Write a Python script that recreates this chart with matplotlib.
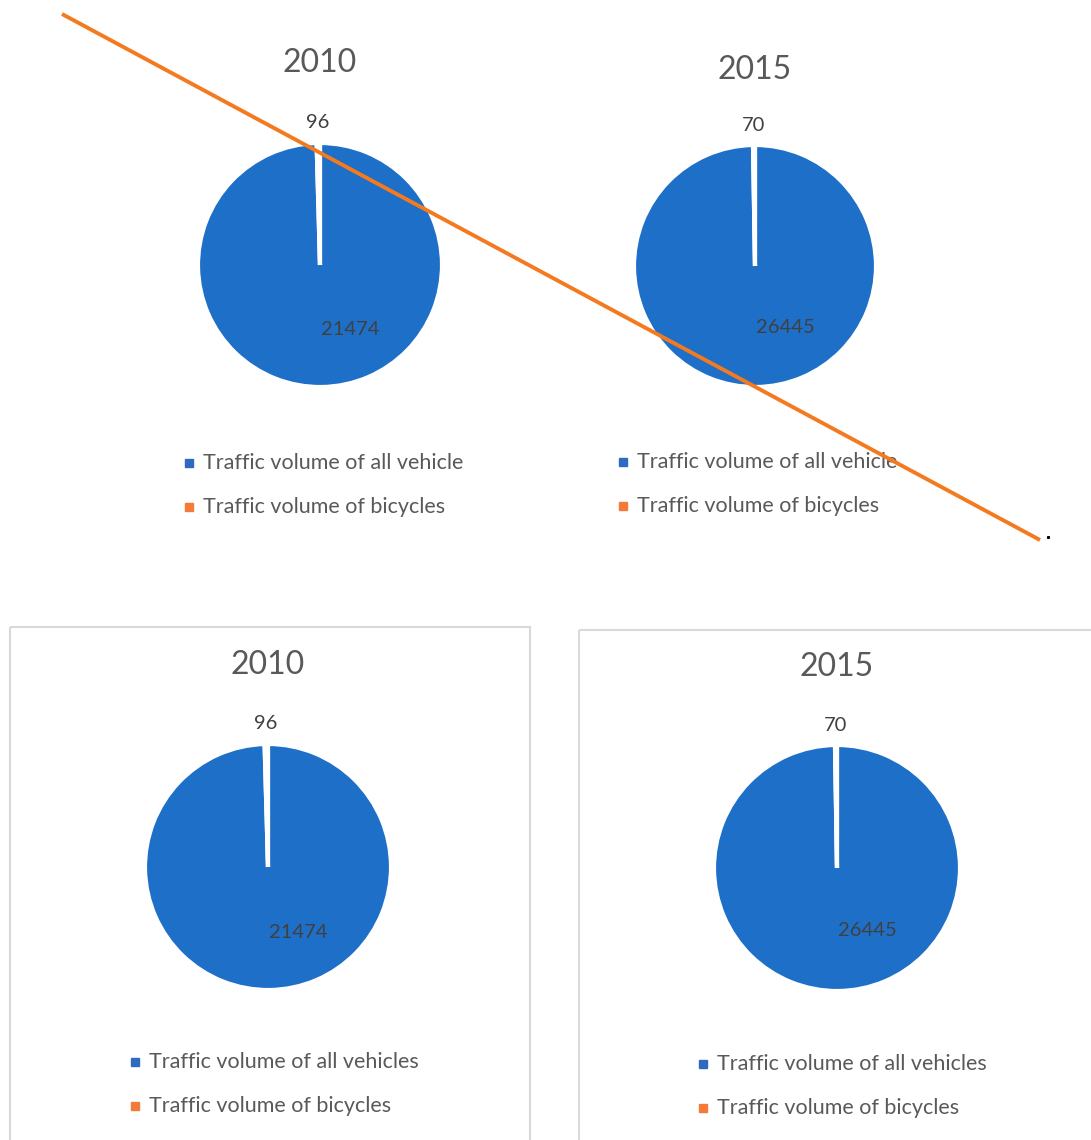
import matplotlib
matplotlib.use("Agg")
import matplotlib.pyplot as plt
from matplotlib.patches import Rectangle

# ---- data ----
years = ["2010", "2015"]
all_vehicles = [21474, 26445]
bicycles = [96, 70]
legend_top = ["Traffic volume of all vehicle", "Traffic volume of bicycles"]
legend_bottom = ["Traffic volume of all vehicles", "Traffic volume of bicycles"]
slice_colors = ["#1E6FC8", "#ED7D31"]
legend_colors = ["#2E6BC0", "#F47A3A"]

W, H = 1091, 1140
plt.rcParams['font.family'] = ['Lato', 'DejaVu Sans']
fig = plt.figure(figsize=(W / 100, H / 100), dpi=100)

# overlay axes in pixel coordinates
ov = fig.add_axes([0, 0, 1, 1])
ov.set_xlim(0, W)
ov.set_ylim(H, 0)
ov.axis('off')
ov.set_zorder(0)

# chart boxes of the lower pair
box_col = "#D9D9D9"
ov.add_patch(Rectangle((10, 627), 520, 600, fill=False, ec=box_col, lw=1.5))
ov.add_patch(Rectangle((579, 630), 600, 600, fill=False, ec=box_col, lw=1.5))

# layout: (center x, center y, radius, title y, legend marker x, legend rows y, legend labels)
layouts = [
    [(320, 265, 122, 63, 189, (463, 507), legend_top),
     (755, 266, 121, 70, 623, (462, 506), legend_top)],
    [(268, 867, 123, 665, 135, (1062, 1106), legend_bottom),
     (837, 868, 123, 667, 703, (1064, 1108), legend_bottom)],
]
top_lbl = [(-0.02, 1.17), (-0.01, 1.16)]
in_lbl = [(0.25, -0.53), (0.25, -0.51)]

txt_col = "#595959"
for row in layouts:
    for i, (cx, cy, r, ty, lx, rows, labels) in enumerate(row):
        ax = fig.add_axes([(cx - r) / W, 1 - (cy + r) / H, 2 * r / W, 2 * r / H])
        ax.set_zorder(2)
        vals = [all_vehicles[i], bicycles[i]]
        ax.pie(vals, colors=slice_colors, startangle=90, counterclock=False,
               radius=1, wedgeprops=dict(edgecolor="white", linewidth=3.0))
        ax.set_xlim(-1, 1)
        ax.set_ylim(-1, 1)
        ax.set_aspect('equal')
        ax.axis('off')
        ax.text(top_lbl[i][0], top_lbl[i][1], f"{bicycles[i]}", ha='center', va='center',
                fontsize=14.5, color="#404040", clip_on=False)
        ax.text(in_lbl[i][0], in_lbl[i][1], f"{all_vehicles[i]}", ha='center', va='center',
                fontsize=14.5, color="#404040", clip_on=False)
        # title
        ov.text(cx, ty, years[i], ha='center', va='center', fontsize=23, color=txt_col)
        # legend
        for k in range(2):
            ov.plot([lx], [rows[k]], marker='s', ms=5.5, color=legend_colors[k], ls='none')
            ov.text(lx + 14, rows[k], labels[k], ha='left', va='center', fontsize=15.5,
                    color=txt_col)

# strike-through line across the upper pair
line_ax = fig.add_axes([0, 0, 1, 1])
line_ax.set_xlim(0, W)
line_ax.set_ylim(H, 0)
line_ax.axis('off')
line_ax.set_zorder(5)
line_ax.plot([62, 1040], [14, 540], color="#F47A20", lw=2.8, solid_capstyle='butt')
line_ax.plot([1048], [537], marker='s', ms=1.2, color="black")

fig.savefig("out.png", dpi=100)
